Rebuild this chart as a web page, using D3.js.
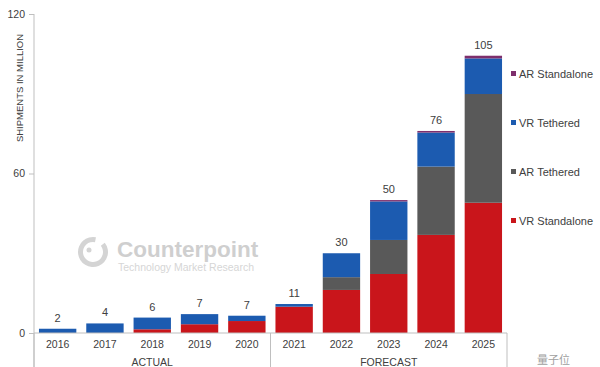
<!DOCTYPE html>
<html><head><meta charset="utf-8">
<script src="https://cdn.jsdelivr.net/npm/d3@7/dist/d3.min.js"></script>
<style>
body{margin:0;background:#fff;}
svg{display:block;font-family:"Liberation Sans",Arial,sans-serif;}
</style></head>
<body><svg id="c" width="600" height="367"></svg>
<script>
const years = ["2016","2017","2018","2019","2020","2021","2022","2023","2024","2025"];
const groups = [{name:"ACTUAL", from:"2016", to:"2020"},{name:"FORECAST", from:"2021", to:"2025"}];
const seriesNames = ["VR Standalone","AR Tethered","VR Tethered","AR Standalone"];
const vrStandalone = [0, 0, 1.4, 3.3, 4.5, 9.9, 16.2, 22.2, 36.9, 49.0];
const arTethered   = [0, 0, 0, 0, 0, 0, 4.8, 12.8, 25.7, 40.9];
const vrTethered   = [1.6, 3.6, 4.4, 3.8, 2.0, 1.0, 9.0, 14.5, 12.8, 13.4];
const arStandalone = [0, 0, 0, 0, 0, 0, 0, 0.5, 0.6, 1.0];
const totals = ["2","4","6","7","7","11","30","50","76","105"];
const yTicks = [0, 60, 120];
const colors = ["#C9151B","#595959","#1C5BB0","#7E2F6C"];

const svg = d3.select("#c");
const x = d3.scaleBand().domain(years).range([34, 507]).paddingInner(0.21).paddingOuter(0.105);
const y = d3.scaleLinear().domain([0,120]).range([333, 14]);

// watermark
const wm = svg.append("g");
wm.append("path").attr("transform","translate(93,252)")
  .attr("d", d3.arc()({innerRadius:10, outerRadius:15, startAngle:0.9, endAngle:2*Math.PI+0.2}))
  .attr("fill","#d4d4d4");
wm.append("circle").attr("cx",89).attr("cy",250).attr("r",2.5).attr("fill","#d4d4d4");
wm.append("text").attr("x",117).attr("y",257).attr("font-size",22.5).attr("font-weight","bold").text("Counterpoint").attr("fill","#cfcfcf");
wm.append("text").attr("x",118).attr("y",271).attr("font-size",10.5).text("Technology Market Research").attr("fill","#d6d6d6");

// stacked bars
const data = years.map((yr,i)=>({year:yr, "VR Standalone":vrStandalone[i], "AR Tethered":arTethered[i], "VR Tethered":vrTethered[i], "AR Standalone":arStandalone[i]}));
const stack = d3.stack().keys(seriesNames)(data);
svg.append("g").selectAll("g").data(stack).join("g")
  .attr("fill",(d,i)=>colors[i])
  .selectAll("rect").data(d=>d).join("rect")
  .attr("x",d=>x(d.data.year)).attr("width",x.bandwidth())
  .attr("y",d=>y(d[1])).attr("height",d=>Math.max(0,y(d[0])-y(d[1])));

// total labels
svg.append("g").selectAll("text").data(years).join("text")
  .attr("x",d=>x(d)+x.bandwidth()/2)
  .attr("y",(d,i)=>y(d3.sum(seriesNames,(k)=>data[i][k]))-7)
  .attr("text-anchor","middle").attr("font-size",11).attr("fill","#404040")
  .text((d,i)=>totals[i]);

// y axis
const yAxis = svg.append("g").attr("transform","translate(34,0)")
  .call(d3.axisLeft(y).tickValues(yTicks).tickSize(5).tickPadding(4));
yAxis.select(".domain").attr("stroke","#bfbfbf").attr("d","M0,14V367");
yAxis.selectAll(".tick line").attr("stroke","#bfbfbf");
yAxis.selectAll(".tick text").attr("font-size",10.5).attr("fill","#404040").attr("font-family","Liberation Sans, Arial, sans-serif");

svg.append("text").attr("transform","translate(23,88) rotate(-90)")
  .attr("text-anchor","middle").attr("font-size",9.5).attr("fill","#404040").text("SHIPMENTS IN MILLION");

// x axis
const xAxis = svg.append("g").attr("transform","translate(0,333)")
  .call(d3.axisBottom(x).tickSize(0).tickPadding(8));
xAxis.select(".domain").attr("stroke","#bfbfbf").attr("d","M34,0H507");
xAxis.selectAll(".tick text").attr("font-size",10.5).attr("fill","#404040").attr("font-family","Liberation Sans, Arial, sans-serif");

// group boxes
const sepX = [34, (x("2020")+x("2021")+x.bandwidth())/2, 507];
svg.append("g").selectAll("line").data(sepX).join("line")
  .attr("x1",d=>d).attr("x2",d=>d).attr("y1",333).attr("y2",367)
  .attr("stroke","#bfbfbf");
svg.append("g").selectAll("text").data(groups).join("text")
  .attr("x",g=>(x(g.from)+x(g.to)+x.bandwidth())/2)
  .attr("y",366).attr("text-anchor","middle").attr("font-size",10.5).attr("fill","#404040")
  .text(g=>g.name);

// legend
const legendOrder = ["AR Standalone","VR Tethered","AR Tethered","VR Standalone"];
const lg = svg.append("g").selectAll("g").data(legendOrder).join("g")
  .attr("transform",(d,i)=>`translate(511,${74+i*49})`);
lg.append("rect").attr("x",0).attr("y",-3).attr("width",5).attr("height",5)
  .attr("fill",d=>colors[seriesNames.indexOf(d)]);
lg.append("text").attr("x",8).attr("y",4).attr("font-size",11).attr("fill","#404040").text(d=>d);

// bottom-right source watermark
svg.append("text").attr("x",537).attr("y",364).attr("font-size",11).attr("fill","#a0a0a0")
  .attr("font-family","Noto Sans CJK SC").text("量子位");
</script></body></html>
